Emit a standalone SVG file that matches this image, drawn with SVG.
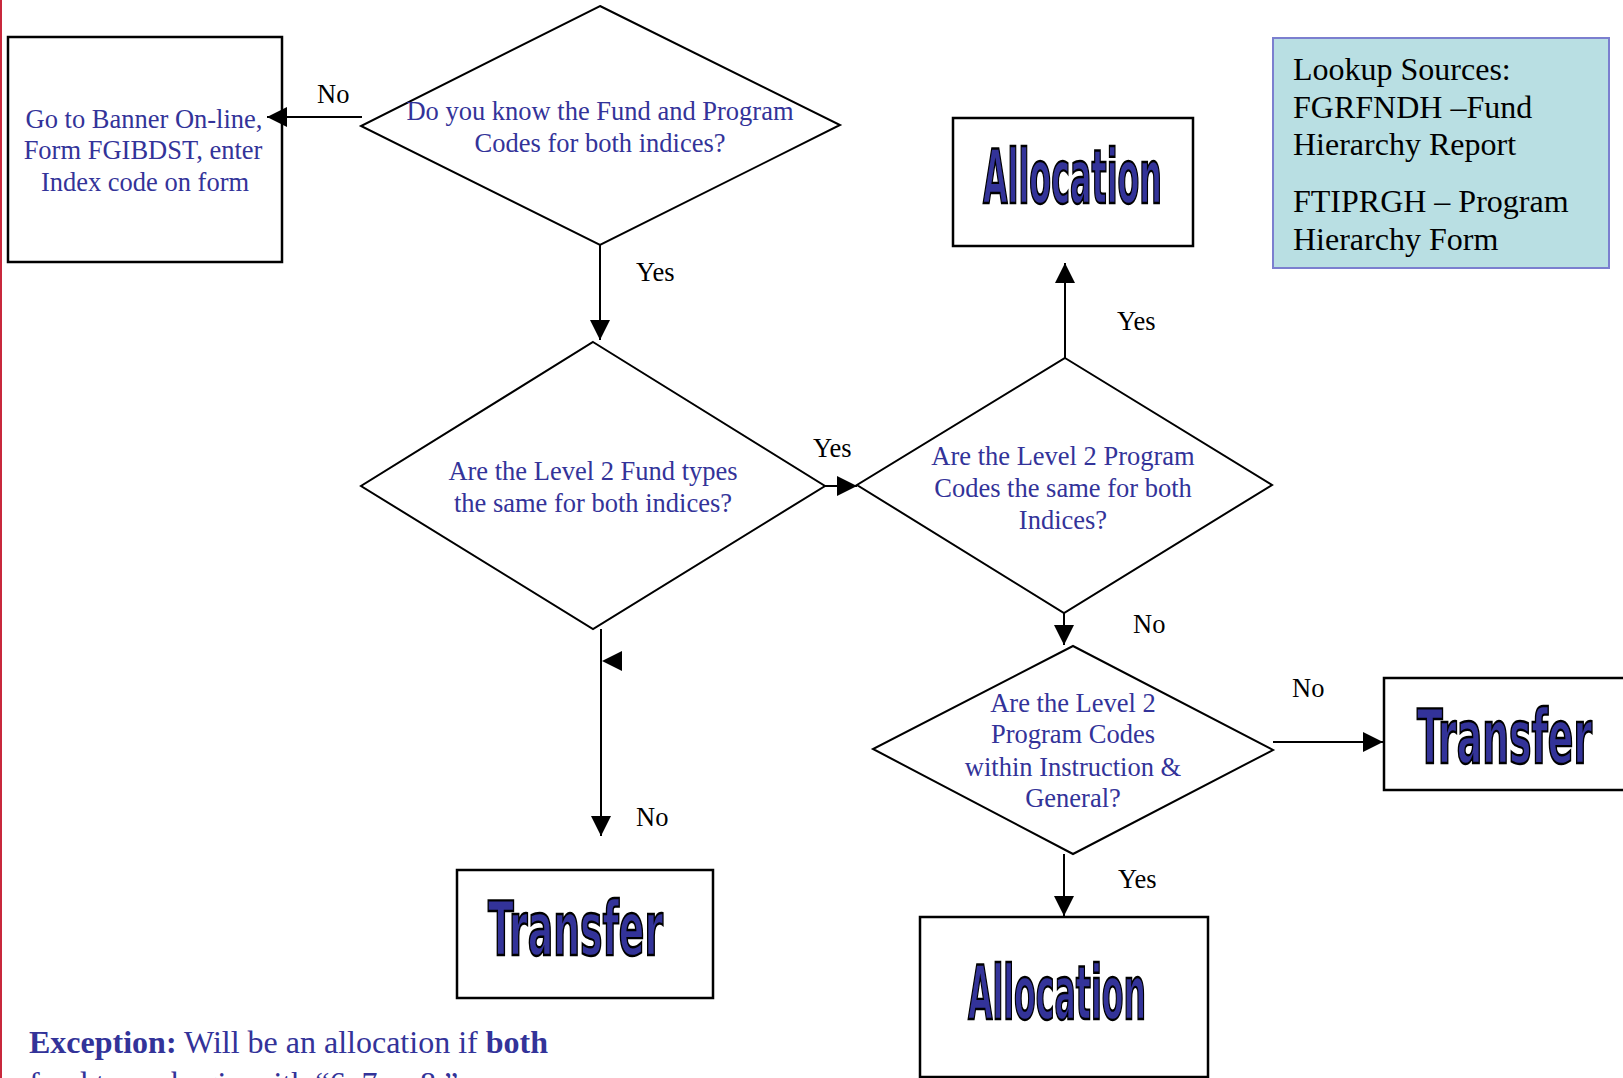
<svg xmlns="http://www.w3.org/2000/svg" width="1623" height="1078" viewBox="0 0 1623 1078">
<style>
.shape{fill:#fff;stroke:#000;stroke-width:2.5}
.dia{fill:#fff;stroke:#000;stroke-width:2}
.q{font-family:"Liberation Serif","Times New Roman",serif;font-size:26.5px;fill:#333399;text-anchor:middle}
.lbl{font-family:"Liberation Serif","Times New Roman",serif;font-size:26.5px;fill:#000}
.big{font-family:"Liberation Sans Narrow","DejaVu Sans Condensed","Liberation Sans",sans-serif;font-weight:bold;font-size:75px;fill:#333399;stroke:#000;stroke-width:2.4}
.src{font-family:"Liberation Serif","Times New Roman",serif;font-size:32px;fill:#000}
.conn{stroke:#000;stroke-width:2;fill:none}
</style>
<defs>
<marker id="ah" markerWidth="20" markerHeight="20" refX="20" refY="10" orient="auto" markerUnits="userSpaceOnUse">
<path d="M0,0 L20,10 L0,20 z" fill="#000"/>
</marker>
</defs>
<rect x="0" y="0" width="1623" height="1078" fill="#fff"/>
<line x1="1" y1="0" x2="1" y2="1078" stroke="#c8283c" stroke-width="2"/>

<g id="banner-box">
<rect class="shape" x="8" y="37" width="274" height="225"/>
<text class="q" x="144" y="128">Go to Banner On-line,</text>
<text class="q" x="143" y="159">Form FGIBDST, enter</text>
<text class="q" x="145" y="191">Index code on form</text>
</g>

<g id="d-know-codes">
<polygon class="dia" points="600,6 840,125 600,245 361,126"/>
<text class="q" x="600" y="120">Do you know the Fund and Program</text>
<text class="q" x="600" y="152">Codes for both indices?</text>
</g>

<g id="d-fund-types">
<polygon class="dia" points="593,342 825,486 593,629 361,486"/>
<text class="q" x="593" y="480">Are the Level 2 Fund types</text>
<text class="q" x="593" y="512">the same for both indices?</text>
</g>

<g id="d-program-codes">
<polygon class="dia" points="1065,358 1272,485 1064,613 857,485"/>
<text class="q" x="1063" y="465">Are the Level 2 Program</text>
<text class="q" x="1063" y="497">Codes the same for both</text>
<text class="q" x="1063" y="529">Indices?</text>
</g>

<g id="d-instruction">
<polygon class="dia" points="1073,646 1273,750 1073,854 873,749"/>
<text class="q" x="1073" y="712">Are the Level 2</text>
<text class="q" x="1073" y="743">Program Codes</text>
<text class="q" x="1073" y="776">within Instruction &amp;</text>
<text class="q" x="1073" y="807">General?</text>
</g>

<g id="allocation-top">
<rect class="shape" x="953" y="118" width="240" height="128"/>
<text class="big" x="983" y="203" textLength="179" lengthAdjust="spacingAndGlyphs">Allocation</text>
</g>

<g id="transfer-right">
<rect class="shape" x="1384" y="678" width="260" height="112"/>
<text class="big" x="1417" y="763" textLength="175" lengthAdjust="spacingAndGlyphs">Transfer</text>
</g>

<g id="transfer-bottom">
<rect class="shape" x="457" y="870" width="256" height="128"/>
<text class="big" x="488" y="955" textLength="175" lengthAdjust="spacingAndGlyphs">Transfer</text>
</g>

<g id="allocation-bottom">
<rect class="shape" x="920" y="917" width="288" height="160"/>
<text class="big" x="968" y="1019" textLength="178" lengthAdjust="spacingAndGlyphs">Allocation</text>
</g>

<g id="lookup-sources">
<rect x="1273" y="38" width="336" height="230" fill="#b9dfe3" stroke="#7b7fcf" stroke-width="2"/>
<text class="src" x="1293" y="80">Lookup Sources:</text>
<text class="src" x="1293" y="118">FGRFNDH –Fund</text>
<text class="src" x="1293" y="155">Hierarchy Report</text>
<text class="src" x="1293" y="212">FTIPRGH – Program</text>
<text class="src" x="1293" y="250">Hierarchy Form</text>
</g>

<g id="exception-note">
<text x="29" y="1053" font-family="Liberation Serif, Times New Roman, serif" font-size="32" fill="#333399"><tspan font-weight="bold">Exception:</tspan> Will be an allocation if <tspan font-weight="bold">both</tspan></text>
<text x="29" y="1094" font-family="Liberation Serif, Times New Roman, serif" font-size="32" fill="#333399">fund types begin with “6, 7 or 8.”</text>
</g>

<g id="connectors">
<line class="conn" x1="362" y1="117" x2="267" y2="117" marker-end="url(#ah)"/>
<line class="conn" x1="600" y1="245" x2="600" y2="340" marker-end="url(#ah)"/>
<line class="conn" x1="825" y1="486" x2="857" y2="486" marker-end="url(#ah)"/>
<line class="conn" x1="1065" y1="358" x2="1065" y2="263" marker-end="url(#ah)"/>
<line class="conn" x1="1064" y1="613" x2="1064" y2="645" marker-end="url(#ah)"/>
<line class="conn" x1="1273" y1="742" x2="1383" y2="742" marker-end="url(#ah)"/>
<line class="conn" x1="1064" y1="854" x2="1064" y2="916" marker-end="url(#ah)"/>
<line class="conn" x1="601" y1="629" x2="601" y2="836" marker-end="url(#ah)"/>
<polygon points="622,651 602,661 622,671" fill="#000"/>
<text class="lbl" x="317" y="103">No</text>
<text class="lbl" x="636" y="281">Yes</text>
<text class="lbl" x="813" y="457">Yes</text>
<text class="lbl" x="1117" y="330">Yes</text>
<text class="lbl" x="1133" y="633">No</text>
<text class="lbl" x="1292" y="697">No</text>
<text class="lbl" x="1118" y="888">Yes</text>
<text class="lbl" x="636" y="826">No</text>
</g>
</svg>
